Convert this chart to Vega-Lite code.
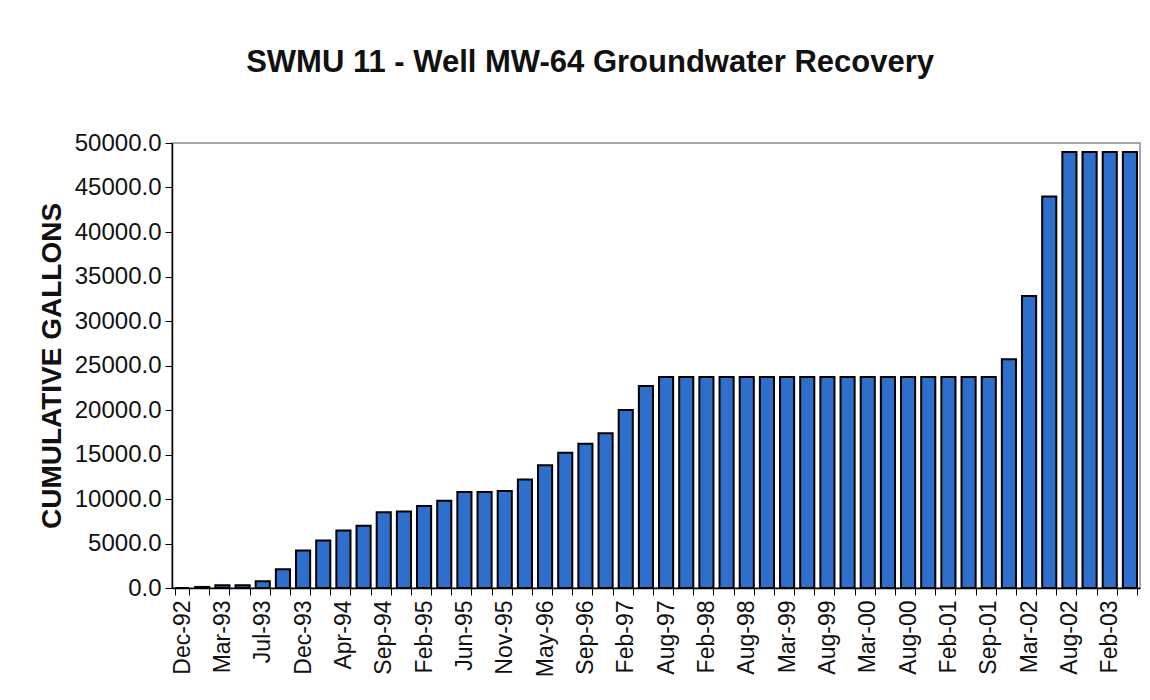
{
  "$schema": "https://vega.github.io/schema/vega-lite/v6.json",
  "autosize": {"type": "none"},
  "width": 968,
  "height": 445,
  "padding": {"left": 172, "top": 143, "right": 10, "bottom": 112},
  "background": "white",
  "title": {
    "text": "SWMU 11 - Well MW-64 Groundwater Recovery",
    "font": "Liberation Sans",
    "fontSize": 31,
    "fontWeight": "bold",
    "color": "#111",
    "anchor": "middle",
    "frame": "bounds",
    "offset": 52
  },
  "config": {
    "view": {"stroke": "#8a8a8a", "strokeWidth": 1.5},
    "font": "Liberation Sans"
  },
  "data": {
    "values": [
      {"date": "Dec-92", "gallons": 0},
      {"date": "Feb-93", "gallons": 120},
      {"date": "Mar-93", "gallons": 300},
      {"date": "May-93", "gallons": 300},
      {"date": "Jul-93", "gallons": 750},
      {"date": "Sep-93", "gallons": 2100},
      {"date": "Dec-93", "gallons": 4200},
      {"date": "Feb-94", "gallons": 5350},
      {"date": "Apr-94", "gallons": 6450},
      {"date": "Jun-94", "gallons": 7000},
      {"date": "Sep-94", "gallons": 8500},
      {"date": "Nov-94", "gallons": 8600},
      {"date": "Feb-95", "gallons": 9200},
      {"date": "Apr-95", "gallons": 9800},
      {"date": "Jun-95", "gallons": 10800},
      {"date": "Aug-95", "gallons": 10800},
      {"date": "Nov-95", "gallons": 10900},
      {"date": "Feb-96", "gallons": 12200},
      {"date": "May-96", "gallons": 13800},
      {"date": "Jul-96", "gallons": 15200},
      {"date": "Sep-96", "gallons": 16200},
      {"date": "Nov-96", "gallons": 17400},
      {"date": "Feb-97", "gallons": 20000},
      {"date": "May-97", "gallons": 22700},
      {"date": "Aug-97", "gallons": 23700},
      {"date": "Nov-97", "gallons": 23700},
      {"date": "Feb-98", "gallons": 23700},
      {"date": "May-98", "gallons": 23700},
      {"date": "Aug-98", "gallons": 23700},
      {"date": "Nov-98", "gallons": 23700},
      {"date": "Mar-99", "gallons": 23700},
      {"date": "May-99", "gallons": 23700},
      {"date": "Aug-99", "gallons": 23700},
      {"date": "Nov-99", "gallons": 23700},
      {"date": "Mar-00", "gallons": 23700},
      {"date": "May-00", "gallons": 23700},
      {"date": "Aug-00", "gallons": 23700},
      {"date": "Nov-00", "gallons": 23700},
      {"date": "Feb-01", "gallons": 23700},
      {"date": "May-01", "gallons": 23700},
      {"date": "Sep-01", "gallons": 23700},
      {"date": "Dec-01", "gallons": 25700},
      {"date": "Mar-02", "gallons": 32800},
      {"date": "May-02", "gallons": 44000},
      {"date": "Aug-02", "gallons": 49000},
      {"date": "Nov-02", "gallons": 49000},
      {"date": "Feb-03", "gallons": 49000},
      {"date": "May-03", "gallons": 49000}
    ]
  },
  "mark": {"type": "bar", "color": "#2D6FCB", "stroke": "#000", "strokeWidth": 2},
  "encoding": {
    "x": {
      "field": "date",
      "type": "ordinal",
      "sort": null,
      "scale": {"paddingInner": 0.3, "paddingOuter": 0.15},
      "axis": {
        "title": null,
        "labelAngle": -90,
        "labelFontSize": 23,
        "labelColor": "#111",
        "labelPadding": 5,
        "labelOverlap": false,
        "labelExpr": "indexof(['Dec-92','Mar-93','Jul-93','Dec-93','Apr-94','Sep-94','Feb-95','Jun-95','Nov-95','May-96','Sep-96','Feb-97','Aug-97','Feb-98','Aug-98','Mar-99','Aug-99','Mar-00','Aug-00','Feb-01','Sep-01','Mar-02','Aug-02','Feb-03'], datum.value) >= 0 ? datum.value : ''",
        "tickBand": "extent",
        "tickSize": 7,
        "tickColor": "#000",
        "domainColor": "#000",
        "domainWidth": 1.5
      }
    },
    "y": {
      "field": "gallons",
      "type": "quantitative",
      "scale": {"domain": [0, 50000], "nice": false},
      "axis": {
        "title": "CUMULATIVE GALLONS",
        "titleFontSize": 28,
        "titleFontWeight": "bold",
        "titleColor": "#111",
        "titlePadding": 8,
        "values": [0, 5000, 10000, 15000, 20000, 25000, 30000, 35000, 40000, 45000, 50000],
        "format": ".1f",
        "labelFontSize": 24,
        "labelColor": "#111",
        "labelPadding": 4,
        "tickSize": 7,
        "tickColor": "#000",
        "domainColor": "#000",
        "domainWidth": 1.5,
        "grid": false
      }
    }
  }
}
